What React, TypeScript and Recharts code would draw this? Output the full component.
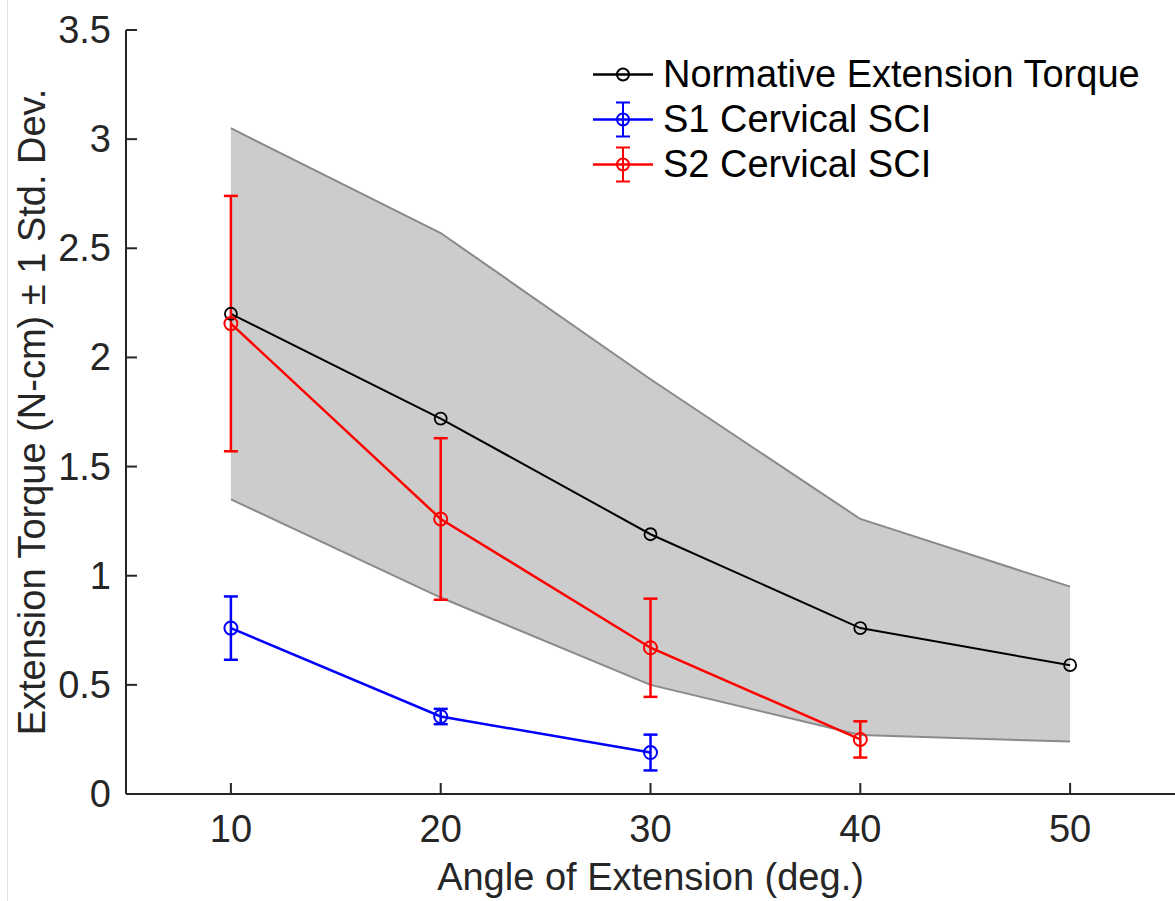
import React from "react";
import {
    ComposedChart,
    Area,
    Line,
    XAxis,
    YAxis,
    ErrorBar,
} from "recharts";

// values
const angles = [10, 20, 30, 40, 50];
const normMean = [2.2, 1.72, 1.19, 0.76, 0.59];
const normUpper = [3.05, 2.57, 1.9, 1.26, 0.95];
const normLower = [1.35, 0.9, 0.5, 0.27, 0.24];
const s1Mean = [0.76, 0.355, 0.19, null, null];
const s1Err = [0.145, 0.035, 0.082, null, null];
const s2Mean = [2.155, 1.26, 0.67, 0.25, null];
const s2Err = [0.585, 0.37, 0.225, 0.083, null];

const xTicks = [10, 20, 30, 40, 50];
const yTicks = [0, 0.5, 1, 1.5, 2, 2.5, 3, 3.5];

const legendItems = [
    { name: "Normative Extension Torque", color: "#000000", err: false },
    { name: "S1 Cervical SCI", color: "#0000ff", err: true },
    { name: "S2 Cervical SCI", color: "#ff0000", err: true },
];

const FONT = "'Liberation Sans', Arial, Helvetica, sans-serif";
const AXIS = "#262626";
const FS = 38;
const TICK_LEN = 11;
const Y_GAP = 15;

const data = angles.map((a, i) => ({
    angle: a,
    band: [normLower[i], normUpper[i]],
    norm: normMean[i],
    s1: s1Mean[i],
    s1Err: s1Err[i],
    s2: s2Mean[i],
    s2Err: s2Err[i],
}));

// ticks point inward (matlab style)
const YTick = (props: any) => {
    const { x, y, payload } = props;
    const ax = x + Y_GAP;
    return (
        <g>
            <path d={`M${ax},${y}h${TICK_LEN}`} stroke={AXIS} strokeWidth={2} fill="none" />
            <text x={x} y={y} dy={13} textAnchor="end" fill={AXIS} fontSize={FS} fontFamily={FONT}>
                {payload.value}
            </text>
        </g>
    );
};

const XTick = (props: any) => {
    const { x, y, payload } = props;
    return (
        <g>
            <path d={`M${x},${y}v${-TICK_LEN}`} stroke={AXIS} strokeWidth={2} fill="none" />
            <text x={x} y={y + 48} textAnchor="middle" fill={AXIS} fontSize={FS} fontFamily={FONT}>
                {payload.value}
            </text>
        </g>
    );
};

const LegendBox = () => (
    <div style={{ position: "absolute", left: 588, top: 52, fontFamily: FONT, fontSize: FS }}>
        {legendItems.map((it) => (
            <div key={it.name} style={{ display: "flex", alignItems: "center", height: 45 }}>
                <svg width={70} height={45}>
                    <line x1={5} x2={65} y1={22.5} y2={22.5} stroke={it.color} strokeWidth={2.5} />
                    <circle cx={35} cy={22.5} r={6} fill="none" stroke={it.color} strokeWidth={2} />
                    {it.err && (
                        <g stroke={it.color} strokeWidth={2}>
                            <line x1={35} x2={35} y1={5.5} y2={39.5} />
                            <line x1={28} x2={42} y1={5.5} y2={5.5} />
                            <line x1={28} x2={42} y1={39.5} y2={39.5} />
                        </g>
                    )}
                </svg>
                <span style={{ color: "#000", marginLeft: 5, lineHeight: "45px", whiteSpace: "nowrap" }}>
                    {it.name}
                </span>
            </div>
        ))}
    </div>
);

export default function App() {
    return (
        <div style={{ position: "absolute", left: 0, top: 0, width: 1175, height: 901, background: "#fff" }}>
            <div style={{ position: "absolute", left: 7, top: 0, width: 1, height: 901, background: "#e2e2e2" }} />
            <ComposedChart
                width={1175}
                height={901}
                data={data}
                margin={{ top: 30, right: 0, bottom: 0, left: 0 }}
            >
                <XAxis
                    dataKey="angle"
                    type="number"
                    domain={[5, 55]}
                    ticks={xTicks}
                    height={107}
                    tickSize={0}
                    tickMargin={0}
                    tickLine={false}
                    tick={<XTick />}
                    stroke={AXIS}
                    strokeWidth={2}
                    label={{
                        content: (p: any) => {
                            const vb = p.viewBox;
                            return (
                                <text x={vb.x + vb.width / 2} y={890} textAnchor="middle" fill={AXIS} fontSize={FS} fontFamily={FONT}>
                                    Angle of Extension (deg.)
                                </text>
                            );
                        },
                    }}
                />
                <YAxis
                    type="number"
                    domain={[0, 3.5]}
                    ticks={yTicks}
                    width={126}
                    tickSize={0}
                    tickMargin={Y_GAP}
                    tickLine={false}
                    tick={<YTick />}
                    stroke={AXIS}
                    strokeWidth={2}
                    label={{
                        content: (p: any) => {
                            const vb = p.viewBox;
                            const cy = vb.y + vb.height / 2;
                            return (
                                <text x={45} y={cy} transform={`rotate(-90 45 ${cy})`} textAnchor="middle" fill={AXIS} fontSize={FS} fontFamily={FONT}>
                                    Extension Torque (N-cm) ± 1 Std. Dev.
                                </text>
                            );
                        },
                    }}
                />
                <Area
                    type="linear"
                    dataKey="band"
                    fill="#cccccc"
                    fillOpacity={1}
                    stroke="#8a8a8a"
                    strokeWidth={2}
                    isAnimationActive={false}
                    dot={false}
                    activeDot={false}
                />
                <Line
                    type="linear"
                    dataKey="norm"
                    stroke="#000"
                    strokeWidth={2}
                    dot={{ r: 6, fill: "none", stroke: "#000", strokeWidth: 1.8 }}
                    isAnimationActive={false}
                />
                <Line
                    type="linear"
                    dataKey="s1"
                    stroke="#0000ff"
                    strokeWidth={2.5}
                    dot={{ r: 6.5, fill: "none", stroke: "#0000ff", strokeWidth: 2 }}
                    isAnimationActive={false}
                >
                    <ErrorBar dataKey="s1Err" width={7} stroke="#0000ff" strokeWidth={2.5} direction="y" isAnimationActive={false} />
                </Line>
                <Line
                    type="linear"
                    dataKey="s2"
                    stroke="#ff0000"
                    strokeWidth={2.5}
                    dot={{ r: 6.5, fill: "none", stroke: "#ff0000", strokeWidth: 2 }}
                    isAnimationActive={false}
                >
                    <ErrorBar dataKey="s2Err" width={7} stroke="#ff0000" strokeWidth={2.5} direction="y" isAnimationActive={false} />
                </Line>
            </ComposedChart>
            <LegendBox />
        </div>
    );
}
